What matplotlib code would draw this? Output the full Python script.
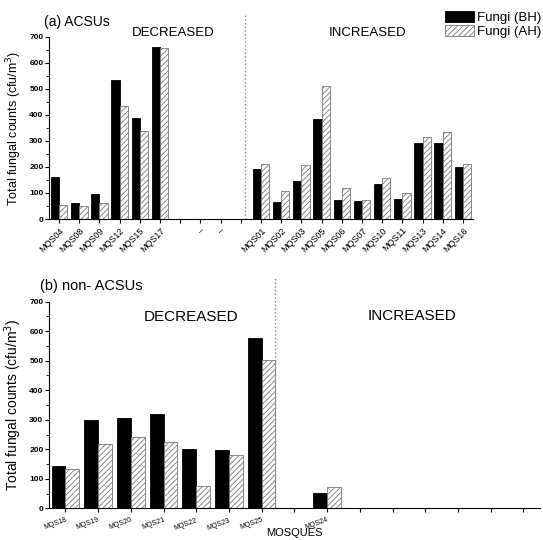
import matplotlib
matplotlib.use("Agg")
import matplotlib.pyplot as plt
import numpy as np

plt.rcParams['font.family'] = ['Liberation Sans', 'DejaVu Sans']
plt.rcParams['hatch.linewidth'] = 0.6

# (a) ACSUs
labels_a = ['MQS04', 'MQS08', 'MQS09', 'MQS12', 'MQS15', 'MQS17', '', '–', '–', '',
            'MQS01', 'MQS02', 'MQS03', 'MQS05', 'MQS06', 'MQS07', 'MQS10', 'MQS11',
            'MQS13', 'MQS14', 'MQS16']
bh_a = [163, 61, 95, 534, 389, 659, 0, 0, 0, 0,
        193, 65, 145, 384, 73, 70, 133, 77, 291, 291, 198]
ah_a = [54, 50, 63, 433, 338, 658, 0, 0, 0, 0,
        211, 108, 207, 510, 118, 72, 157, 100, 315, 334, 211]

# (b) non-ACSUs
labels_b = ['MQS18', 'MQS19', 'MQS20', 'MQS21', 'MQS22', 'MQS23', 'MQS25', '',
            'MQS24', '', '', '', '', '', '']
bh_b = [144, 300, 307, 318, 201, 199, 578, 0, 52, 0, 0, 0, 0, 0, 0]
ah_b = [134, 217, 242, 223, 74, 179, 503, 0, 72, 0, 0, 0, 0, 0, 0]

fig = plt.figure(figsize=(5.43, 5.40), dpi=100)
ax1 = fig.add_axes([0.0902, 0.5944, 0.781, 0.3376])
ax2 = fig.add_axes([0.0902, 0.0587, 0.904, 0.3826])

hatch_kw = dict(color='white', edgecolor='#777777', hatch='//////', linewidth=0.6)


def draw(ax, labels, bh, ah, w):
    x = np.arange(len(labels))
    b1 = ax.bar(x - w / 2, bh, w, color='black', edgecolor='black', linewidth=0.6,
                label='Fungi (BH)')
    b2 = ax.bar(x + w / 2, ah, w, label='Fungi (AH)', **hatch_kw)
    ax.set_xticks(x)
    ax.set_xlim(-0.5, len(labels) - 0.5)
    ax.set_ylim(0, 700)
    ax.set_yticks(range(0, 701, 100))
    ax.set_yticks(range(50, 700, 100), minor=True)
    ax.spines['top'].set_visible(False)
    ax.spines['right'].set_visible(False)
    ax.tick_params(axis='y', labelsize=6, length=3, width=0.8, pad=1)
    ax.tick_params(axis='y', which='minor', length=2, width=0.6)
    ax.tick_params(axis='x', length=3, width=0.8)
    for t in ax.get_yticklabels():
        t.set_fontweight('bold')
    return b1, b2


b1, b2 = draw(ax1, labels_a, bh_a, ah_a, 0.41)
ax1.set_xticklabels(labels_a, rotation=45, ha='right', rotation_mode='anchor', fontsize=6.5)
ax1.tick_params(axis='x', pad=2)
ax1.axvline(9.2, ymin=0, ymax=1.13, color='#888888', linestyle=':', linewidth=1, clip_on=False)
ax1.text(5.64, 714, 'DECREASED', ha='center', va='center', fontsize=9.5)
ax1.text(15.3, 714, 'INCREASED', ha='center', va='center', fontsize=9.5)
ax1.set_ylabel('Total fungal counts (cfu/m$^3$)', fontsize=9, labelpad=4)
fig.text(44 / 543, 1 - 22 / 540, '(a) ACSUs', fontsize=10, va='center', ha='left')

draw(ax2, labels_b, bh_b, ah_b, 0.42)
ax2.set_xticklabels(labels_b, rotation=20, ha='right', rotation_mode='anchor', fontsize=5)
ax2.tick_params(axis='x', pad=3)
ax2.axvline(6.4, ymin=0, ymax=1.115, color='#888888', linestyle=':', linewidth=1, clip_on=False)
ax2.text(3.84, 648, 'DECREASED', ha='center', va='center', fontsize=11)
ax2.text(10.6, 651, 'INCREASED', ha='center', va='center', fontsize=11)
ax2.set_ylabel('Total fungal counts (cfu/m$^3$)', fontsize=10, labelpad=4)
ax2.set_xlabel('MOSQUES', fontsize=8)
ax2.xaxis.set_label_coords(0.5, -0.095)
fig.text(40 / 543, 1 - 286 / 540, '(b) non- ACSUs', fontsize=10.5, va='center', ha='left')

fig.legend([b1, b2], ['Fungi (BH)', 'Fungi (AH)'], loc='upper left',
           bbox_to_anchor=(445 / 543, 1 - 11 / 540), frameon=False, fontsize=9.5,
           handlelength=2.2, handleheight=0.85, labelspacing=0.1, handletextpad=0.2,
           borderpad=0, borderaxespad=0)

fig.savefig('out.png', dpi=100)
